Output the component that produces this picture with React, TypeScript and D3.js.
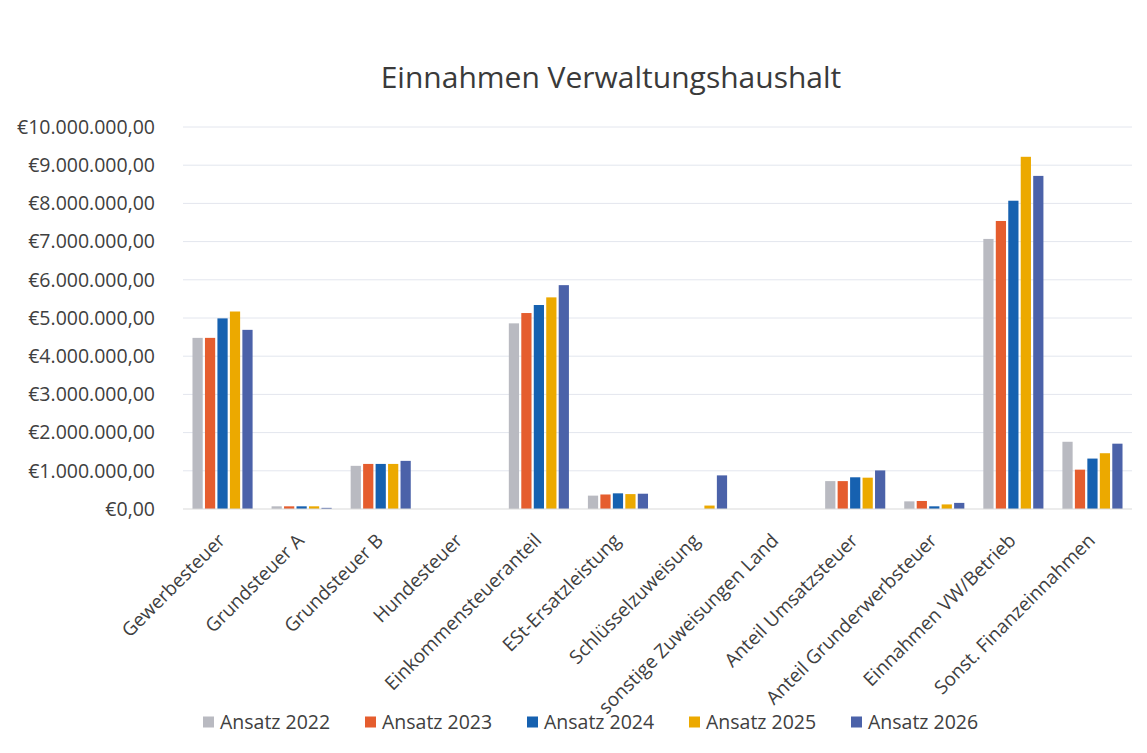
import React, { useEffect, useRef } from "react";
import * as d3 from "d3";

const categories = [
  "Gewerbesteuer",
  "Grundsteuer A",
  "Grundsteuer B",
  "Hundesteuer",
  "Einkommensteueranteil",
  "ESt-Ersatzleistung",
  "Schlüsselzuweisung",
  "sonstige Zuweisungen Land",
  "Anteil Umsatzsteuer",
  "Anteil Grunderwerbsteuer",
  "Einnahmen VW/Betrieb",
  "Sonst. Finanzeinnahmen",
];

const seriesNames = ["Ansatz 2022", "Ansatz 2023", "Ansatz 2024", "Ansatz 2025", "Ansatz 2026"];

const ansatz2022 = [4480000, 70000, 1130000, 0, 4860000, 350000, 0, 0, 730000, 200000, 7070000, 1760000];
const ansatz2023 = [4480000, 70000, 1180000, 0, 5130000, 380000, 0, 0, 730000, 210000, 7540000, 1030000];
const ansatz2024 = [4990000, 70000, 1180000, 0, 5340000, 410000, 0, 0, 830000, 70000, 8070000, 1320000];
const ansatz2025 = [5170000, 70000, 1180000, 0, 5540000, 390000, 90000, 0, 820000, 120000, 9220000, 1460000];
const ansatz2026 = [4690000, 30000, 1260000, 0, 5860000, 400000, 880000, 0, 1010000, 160000, 8720000, 1710000];

const yTicks = [0, 1000000, 2000000, 3000000, 4000000, 5000000, 6000000, 7000000, 8000000, 9000000, 10000000];

const colors = ["#B9BAC1", "#E55D2E", "#1661B0", "#ECA900", "#4B62A9"];

const W = 1147;
const H = 753;

const fmtEuro = (v: number) => {
  const s = d3.format(",.2f")(v);
  return "€" + s.replace(/,/g, "#").replace(".", ",").replace(/#/g, ".");
};

const App = () => {
  const ref = useRef<SVGSVGElement>(null);

  useEffect(() => {
    const svg = d3.select(ref.current).attr("width", W).attr("height", H);
    svg.selectAll("*").remove();

    const font = "'Open Sans', sans-serif";
    const margin = { top: 127, right: 15, bottom: 244, left: 183 };
    const width = W - margin.left - margin.right;
    const height = H - margin.top - margin.bottom;

    svg.append("rect").attr("width", W).attr("height", H).attr("fill", "#ffffff");

    svg
      .append("text")
      .attr("x", 611)
      .attr("y", 88)
      .attr("text-anchor", "middle")
      .style("font-family", font)
      .style("font-size", "30px")
      .style("fill", "#3a3a3a")
      .text("Einnahmen Verwaltungshaushalt");

    const chart = svg.append("g").attr("transform", `translate(${margin.left},${margin.top})`);

    const x = d3.scaleBand().domain(categories).range([0, width]).paddingInner(0.24).paddingOuter(0.12);
    const x1 = d3.scaleBand().domain(seriesNames).range([0, x.bandwidth()]).paddingInner(0.18);
    const y = d3.scaleLinear().domain([0, 10000000]).range([height, 0]);

    // grid
    chart
      .append("g")
      .selectAll("line")
      .data(yTicks.slice(1))
      .enter()
      .append("line")
      .attr("x1", 0)
      .attr("x2", width)
      .attr("y1", (d) => y(d))
      .attr("y2", (d) => y(d))
      .attr("stroke", "#E3E6EE")
      .attr("stroke-width", 1);

    // y labels
    chart
      .append("g")
      .selectAll("text")
      .data(yTicks)
      .enter()
      .append("text")
      .attr("x", -28)
      .attr("y", (d) => y(d))
      .attr("dy", "0.35em")
      .attr("text-anchor", "end")
      .style("font-family", font)
      .style("font-size", "19.5px")
      .style("fill", "#404040")
      .text((d) => fmtEuro(d));

    const series = [ansatz2022, ansatz2023, ansatz2024, ansatz2025, ansatz2026];

    series.forEach((vals, i) => {
      chart
        .append("g")
        .selectAll("rect")
        .data(vals)
        .enter()
        .append("rect")
        .attr("x", (_d, j) => (x(categories[j]) as number) + (x1(seriesNames[i]) as number))
        .attr("y", (d) => y(d))
        .attr("width", x1.bandwidth())
        .attr("height", (d) => height - y(d))
        .attr("fill", colors[i]);
    });

    // baseline
    chart
      .append("line")
      .attr("x1", 0)
      .attr("x2", width)
      .attr("y1", height)
      .attr("y2", height)
      .attr("stroke", "#D9D9D9");

    // x labels
    chart
      .append("g")
      .selectAll("text")
      .data(categories)
      .enter()
      .append("text")
      .attr(
        "transform",
        (d) => `translate(${(x(d) as number) + x.bandwidth() / 2 - 1},${height + 28}) rotate(-45)`
      )
      .attr("text-anchor", "end")
      .attr("dy", "0.35em")
      .style("font-family", font)
      .style("font-size", "19px")
      .style("fill", "#404040")
      .text((d) => d);

    // legend
    const legend = svg.append("g").attr("transform", `translate(203, 722)`);
    seriesNames.forEach((name, i) => {
      const row = legend.append("g").attr("transform", `translate(${i * 162}, 0)`);
      row.append("rect").attr("x", 0).attr("y", -5.5).attr("width", 11).attr("height", 11).attr("fill", colors[i]);
      row
        .append("text")
        .attr("x", 17)
        .attr("y", 0)
        .attr("dy", "0.35em")
        .style("font-family", font)
        .style("font-size", "19.5px")
        .style("fill", "#404040")
        .text(name);
    });
  }, []);

  return <svg ref={ref} style={{ display: "block", position: "absolute", left: 0, top: 0 }} />;
};

export default App;
